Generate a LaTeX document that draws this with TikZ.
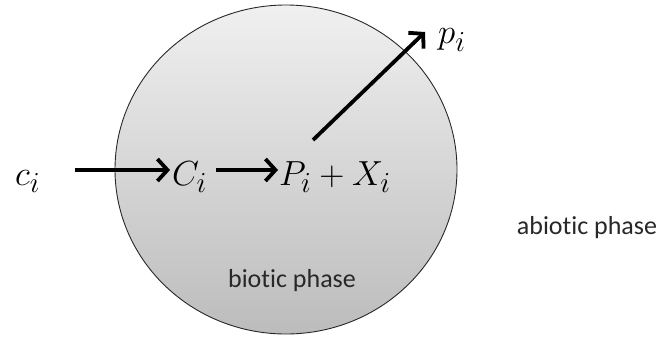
\documentclass[tikz,border=0pt]{standalone}
\usepackage{graphicx}
\usepackage{fontspec}
\setmainfont[Ligatures={NoCommon}]{Carlito}
\usetikzlibrary{arrows.meta,shapes.geometric}
\definecolor{topgray}{RGB}{240,240,240}
\definecolor{botgray}{RGB}{188,188,188}
\definecolor{rimgray}{RGB}{40,40,40}
\definecolor{labelgray}{RGB}{40,40,40}
\newcommand{\bigmath}[1]{\scalebox{1.4}{\Huge$#1$}}
\tikzset{
  phase/.style={ellipse, draw=rimgray, line width=0.9pt, top color=topgray, bottom color=botgray, minimum width=342pt, minimum height=329pt, inner sep=0pt},
  mathlbl/.style={inner sep=0pt},
  txtlbl/.style={inner sep=0pt, text=labelgray, font=\fontsize{26}{30}\selectfont},
  arr/.style={line width=3.8pt, -{Straight Barb[length=10pt,width=22pt,line width=3.8pt]}, line join=miter}
}
\begin{document}
\begin{tikzpicture}[x=1pt,y=-1pt]
\useasboundingbox (0,0) rectangle (658,337);
\node[phase] (cell) at (286,169.5) {};
\node[mathlbl, anchor=base west] (ci) at (15,185) {\bigmath{c_i}};
\node[mathlbl, anchor=base west] (Ci) at (172,185) {\bigmath{C_i}};
\node[mathlbl, anchor=base west] (PX) at (279,185) {\bigmath{P_i+X_i}};
\node[mathlbl, anchor=base west] (pi) at (438,44) {\bigmath{p_i}};
\node[txtlbl] (biotic) at (292,281) {biotic phase};
\node[txtlbl] (abiotic) at (587,228) {abiotic phase};
\coordinate (a1s) at (75,170);
\coordinate (a1e) at (170,170);
\coordinate (a2s) at (216,170);
\coordinate (a2e) at (278,170);
\coordinate (a3s) at (313,140);
\coordinate (a3e) at (425,32);
\draw[arr] (a1s) -- (a1e);
\draw[arr] (a2s) -- (a2e);
\draw[arr] (a3s) -- (a3e);
\end{tikzpicture}
\end{document}
